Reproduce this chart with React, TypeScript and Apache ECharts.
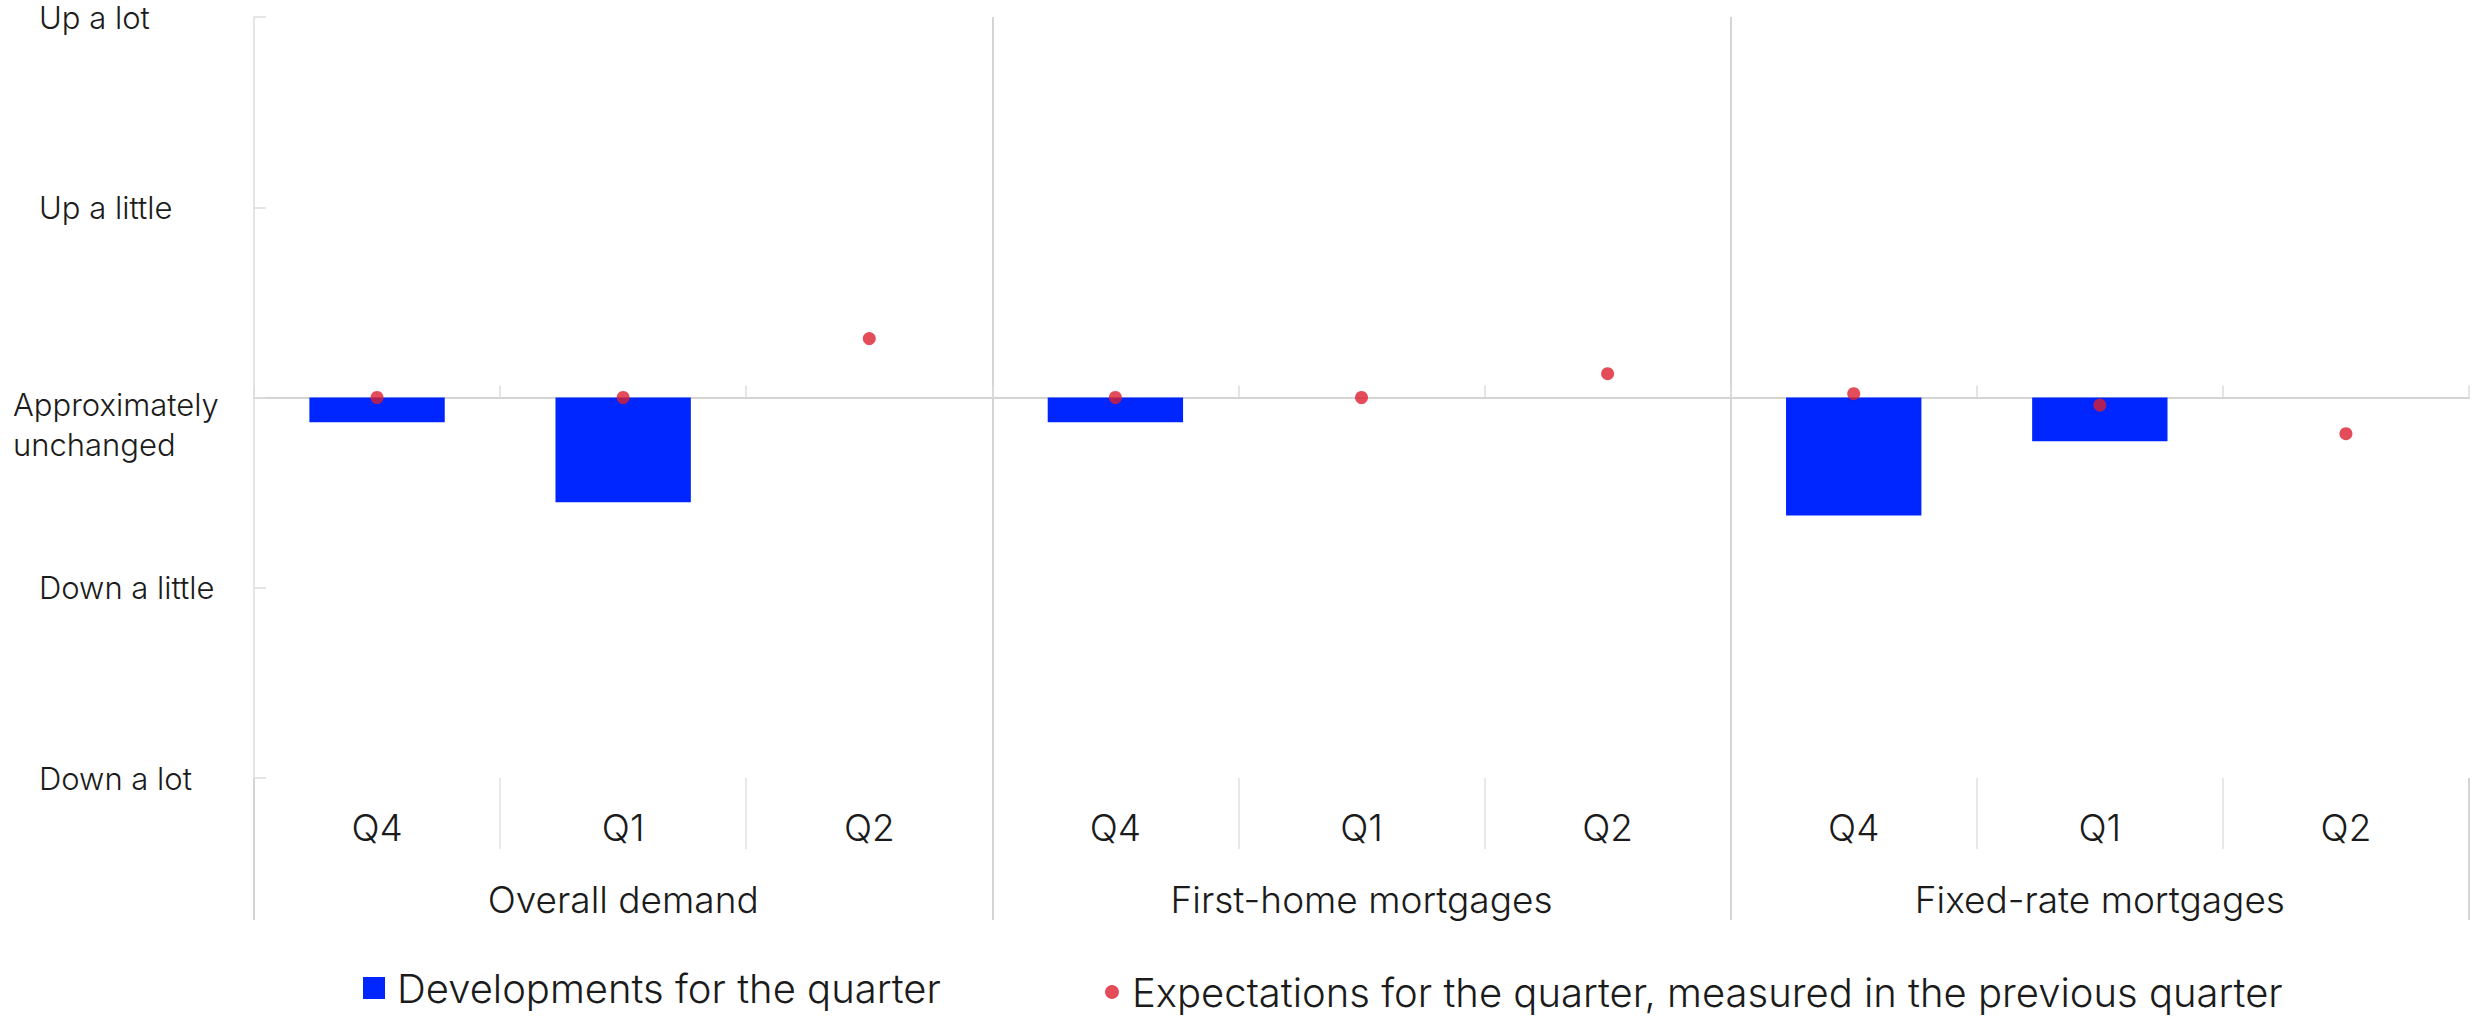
import React, { useEffect, useRef } from "react";
import * as echarts from "echarts";

const categories = ["Q4", "Q1", "Q2", "Q4", "Q1", "Q2", "Q4", "Q1", "Q2"];
const groups = ["Overall demand", "First-home mortgages", "Fixed-rate mortgages"];
// tick labels for values -2, -1, 0, 1, 2
const yTickLabels = ["Down a lot", "Down a little", "Approximately\nunchanged", "Up a little", "Up a lot"];
const developments: (number | null)[] = [-0.13, -0.55, null, -0.13, null, null, -0.62, -0.23, null];
const expectations: number[] = [0, 0, 0.31, 0, 0, 0.125, 0.02, -0.04, -0.19];
const seriesNames = ["Developments for the quarter", "Expectations for the quarter, measured in the previous quarter"];

const FONT = "Inter";
const TEXT = "#1b1b1b";
const GRID_LINE = "#d4d4d4";
const BLUE = "#0026ff";
const RED = "#dc1f2e";

export default function App() {
  const ref = useRef<HTMLDivElement>(null);
  useEffect(() => {
    if (!ref.current) return;
    const chart = echarts.init(ref.current, undefined, { renderer: "svg" });
    const left = 254;
    const right = 15;
    const option: any = {
      animation: false,
      backgroundColor: "#ffffff",
      textStyle: { fontFamily: FONT, fontWeight: 300, color: TEXT },
      grid: [
        { left, right, top: 17, height: 761 },
        { left, right, top: 778, height: 71 },
        { left, right, top: 778, height: 142 },
      ],
      xAxis: [
        {
          type: "category",
          gridIndex: 0,
          data: categories,
          axisLine: { onZero: true, lineStyle: { color: GRID_LINE, width: 2 } },
          axisTick: { show: true, inside: true, length: 12, interval: 0, lineStyle: { color: "#dcdcdc", width: 1.5 } },
          axisLabel: { show: false },
          splitLine: { show: false },
        },
        {
          type: "category",
          gridIndex: 0,
          data: groups,
          axisLine: { show: false },
          axisTick: { show: false },
          axisLabel: { show: false },
          splitLine: { show: true, interval: 0, showMinLine: false, showMaxLine: false, lineStyle: { color: GRID_LINE, width: 2 } },
        },
        {
          type: "category",
          gridIndex: 1,
          position: "top",
          data: categories,
          axisLine: { show: false },
          axisTick: { show: false },
          axisLabel: {
            show: true, inside: true, interval: 0, margin: 49, verticalAlign: "middle",
            fontSize: 37, fontFamily: FONT, fontWeight: 300, color: TEXT,
          },
          splitLine: { show: true, interval: 0, lineStyle: { color: "#e0e0e0", width: 1.5 } },
        },
        {
          type: "category",
          gridIndex: 2,
          position: "bottom",
          data: groups,
          axisLine: { show: false },
          axisTick: { show: false },
          axisLabel: {
            show: true, inside: true, interval: 0, margin: 21, verticalAlign: "middle",
            fontSize: 37, fontFamily: FONT, fontWeight: 300, color: TEXT,
          },
          splitLine: { show: true, interval: 0, lineStyle: { color: GRID_LINE, width: 2 } },
        },
      ],
      yAxis: [
        {
          type: "value",
          gridIndex: 0,
          min: -2,
          max: 2,
          interval: 1,
          axisLine: { show: true, lineStyle: { color: "#dcdcdc", width: 1.5 } },
          axisTick: { show: true, inside: true, length: 12, lineStyle: { color: "#dcdcdc", width: 1.5 } },
          splitLine: { show: false },
          axisLabel: {
            show: true,
            align: "left",
            margin: 241,
            verticalAlign: "middle",
            formatter: (v: number) => {
              const t = yTickLabels[Math.round(v) + 2];
              if (t === undefined) return "";
              if (t.indexOf("\n") >= 0) {
                return "{e| }\n" + t.split("\n").map((l) => `{z|${l}}`).join("\n");
              }
              return `{n|${t}}`;
            },
            rich: {
              n: { fontSize: 31, fontFamily: FONT, fontWeight: 300, color: TEXT, padding: [0, 0, 0, 26] },
              z: { fontSize: 31, fontFamily: FONT, fontWeight: 300, color: TEXT, lineHeight: 40 },
              e: { fontSize: 31, lineHeight: 54 },
            },
          },
        },
        { type: "value", gridIndex: 1, show: false },
        { type: "value", gridIndex: 2, show: false },
      ],
      legend: [
        {
          data: [seriesNames[0]],
          left: 363,
          top: 968,
          padding: 0,
          itemWidth: 22,
          itemHeight: 22,
          icon: "rect",
          textStyle: { fontSize: 40, fontFamily: FONT, fontWeight: 300, color: TEXT, padding: [0, 0, 0, 7] },
        },
        {
          data: [seriesNames[1]],
          left: 1105,
          top: 972,
          padding: 0,
          itemWidth: 30,
          itemHeight: 14,
          icon: "circle",
          textStyle: { fontSize: 40, fontFamily: FONT, fontWeight: 300, color: TEXT },
        },
      ],
      series: [
        {
          name: seriesNames[0],
          type: "bar",
          xAxisIndex: 0,
          yAxisIndex: 0,
          data: developments,
          barWidth: "55%",
          itemStyle: { color: BLUE },
        },
        {
          name: seriesNames[1],
          type: "scatter",
          xAxisIndex: 0,
          yAxisIndex: 0,
          data: expectations,
          symbol: "circle",
          symbolSize: 13,
          itemStyle: { color: RED },
          z: 5,
        },
      ],
    };
    chart.setOption(option);
    return () => chart.dispose();
  }, []);
  return (
    <div
      ref={ref}
      style={{ position: "absolute", left: 0, top: 0, width: "2484px", height: "1018px" }}
    />
  );
}
